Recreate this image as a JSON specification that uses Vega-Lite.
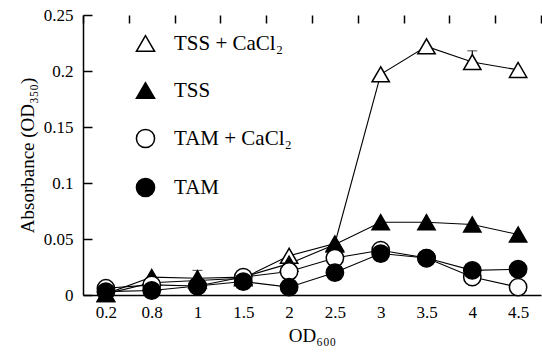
{
  "$schema": "https://vega.github.io/schema/vega-lite/v6.json",
  "width": 458,
  "height": 280,
  "autosize": {"type": "none"},
  "padding": {"left": 83, "top": 15, "right": 1, "bottom": 59},
  "background": "white",
  "config": {
    "view": {"stroke": null},
    "font": "Liberation Serif",
    "axis": {"grid": false, "domainColor": "black", "domainWidth": 1.5, "tickColor": "black", "tickWidth": 1.5, "labelColor": "black", "titleColor": "black", "labelFont": "Liberation Serif", "titleFont": "Liberation Serif", "labelFontSize": 17, "titleFontSize": 19, "titleFontWeight": "normal"}
  },
  "data": {"values": [
    {"od": "0.2", "s": "TSS + CaCl₂", "v": 0.001},
    {"od": "0.8", "s": "TSS + CaCl₂", "v": 0.011},
    {"od": "1", "s": "TSS + CaCl₂", "v": 0.013, "hi": 0.022},
    {"od": "1.5", "s": "TSS + CaCl₂", "v": 0.015},
    {"od": "2", "s": "TSS + CaCl₂", "v": 0.035},
    {"od": "2.5", "s": "TSS + CaCl₂", "v": 0.046},
    {"od": "3", "s": "TSS + CaCl₂", "v": 0.197},
    {"od": "3.5", "s": "TSS + CaCl₂", "v": 0.222},
    {"od": "4", "s": "TSS + CaCl₂", "v": 0.208, "hi": 0.218},
    {"od": "4.5", "s": "TSS + CaCl₂", "v": 0.201},
    {"od": "0.2", "s": "TSS", "v": 0.001},
    {"od": "0.8", "s": "TSS", "v": 0.016},
    {"od": "1", "s": "TSS", "v": 0.015},
    {"od": "1.5", "s": "TSS", "v": 0.016, "hi": 0.02},
    {"od": "2", "s": "TSS", "v": 0.028},
    {"od": "2.5", "s": "TSS", "v": 0.045},
    {"od": "3", "s": "TSS", "v": 0.065},
    {"od": "3.5", "s": "TSS", "v": 0.065},
    {"od": "4", "s": "TSS", "v": 0.063},
    {"od": "4.5", "s": "TSS", "v": 0.054},
    {"od": "0.2", "s": "TAM + CaCl₂", "v": 0.006},
    {"od": "0.8", "s": "TAM + CaCl₂", "v": 0.009},
    {"od": "1", "s": "TAM + CaCl₂", "v": 0.008},
    {"od": "1.5", "s": "TAM + CaCl₂", "v": 0.016},
    {"od": "2", "s": "TAM + CaCl₂", "v": 0.021},
    {"od": "2.5", "s": "TAM + CaCl₂", "v": 0.033},
    {"od": "3", "s": "TAM + CaCl₂", "v": 0.040},
    {"od": "3.5", "s": "TAM + CaCl₂", "v": 0.033},
    {"od": "4", "s": "TAM + CaCl₂", "v": 0.016},
    {"od": "4.5", "s": "TAM + CaCl₂", "v": 0.007},
    {"od": "0.2", "s": "TAM", "v": 0.003},
    {"od": "0.8", "s": "TAM", "v": 0.004},
    {"od": "1", "s": "TAM", "v": 0.008},
    {"od": "1.5", "s": "TAM", "v": 0.012},
    {"od": "2", "s": "TAM", "v": 0.007},
    {"od": "2.5", "s": "TAM", "v": 0.020},
    {"od": "3", "s": "TAM", "v": 0.037},
    {"od": "3.5", "s": "TAM", "v": 0.033},
    {"od": "4", "s": "TAM", "v": 0.022},
    {"od": "4.5", "s": "TAM", "v": 0.023}
  ]},
  "resolve": {"axis": {"x": "independent", "y": "independent"}},
  "layer": [
    {
      "mark": {"type": "point", "opacity": 0},
      "encoding": {
        "x": {"field": "od", "type": "ordinal", "sort": ["0.2", "0.8", "1", "1.5", "2", "2.5", "3", "3.5", "4", "4.5"],
          "scale": {"type": "band", "paddingInner": 0, "paddingOuter": 0},
          "axis": null},
        "y": {"field": "v", "type": "quantitative",
          "scale": {"domain": [0, 0.25], "nice": false, "zero": true},
          "axis": {"orient": "right", "offset": -458, "labels": false, "domain": false, "title": null, "values": [0, 0.05, 0.1, 0.15, 0.2, 0.25], "tickSize": 9}}
      }
    },
    {
      "transform": [{"filter": "isValid(datum.hi)"}],
      "mark": {"type": "errorbar", "ticks": {"size": 10, "color": "black", "strokeWidth": 1.5}, "rule": {"color": "black", "strokeWidth": 1.2}},
      "encoding": {
        "x": {"field": "od", "type": "ordinal", "sort": ["0.2", "0.8", "1", "1.5", "2", "2.5", "3", "3.5", "4", "4.5"],
          "axis": {"orient": "bottom", "title": "OD₆₀₀", "labelAngle": 0, "ticks": false, "labelPadding": 9, "titlePadding": 6,
            "tickBand": "extent", "grid": true, "gridColor": "black", "gridWidth": 1.5, "gridOpacity": 1, "gridDash": [8, 1000]}},
        "y": {"field": "v", "type": "quantitative",
          "axis": {"title": "Absorbance (OD₃₅₀)", "values": [0, 0.05, 0.1, 0.15, 0.2, 0.25], "format": "~g", "ticks": false, "labelPadding": 10, "titlePadding": 6}},
        "y2": {"field": "hi"}
      }
    },
    {
      "mark": {"type": "line", "color": "black", "strokeWidth": 1.1},
      "encoding": {
        "x": {"field": "od", "type": "ordinal", "sort": ["0.2", "0.8", "1", "1.5", "2", "2.5", "3", "3.5", "4", "4.5"], "axis": null},
        "y": {"field": "v", "type": "quantitative", "axis": null},
        "detail": {"field": "s"}
      }
    },
    {
      "mark": {"type": "point", "filled": true, "stroke": "black", "strokeWidth": 1.5, "size": 300, "opacity": 1},
      "encoding": {
        "x": {"field": "od", "type": "ordinal", "sort": ["0.2", "0.8", "1", "1.5", "2", "2.5", "3", "3.5", "4", "4.5"], "axis": null},
        "y": {"field": "v", "type": "quantitative", "axis": null},
        "shape": {"field": "s", "type": "nominal",
          "scale": {"domain": ["TSS + CaCl₂", "TSS", "TAM + CaCl₂", "TAM"], "range": ["triangle-up", "triangle-up", "circle", "circle"]},
          "legend": {"title": null, "orient": "none", "legendX": 52, "legendY": 18, "symbolSize": 330, "labelFontSize": 21, "labelFont": "Liberation Serif", "labelColor": "black", "rowPadding": 24, "labelOffset": 18,
            "encode": {"symbols": {"update": {"stroke": {"value": "black"}, "strokeWidth": {"value": 1.5}}}}}},
        "fill": {"field": "s", "type": "nominal",
          "scale": {"domain": ["TSS + CaCl₂", "TSS", "TAM + CaCl₂", "TAM"], "range": ["white", "black", "white", "black"]}}
      }
    }
  ]
}
